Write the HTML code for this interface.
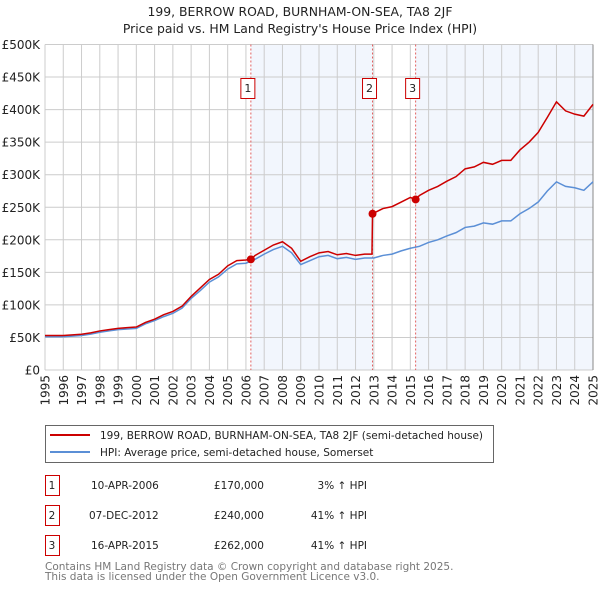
<!DOCTYPE html>
<html><head><meta charset="utf-8"><style>
body{margin:0;background:#fff;font-family:"DejaVu Sans","Liberation Sans",sans-serif;}
svg text{font-family:"DejaVu Sans","Liberation Sans",sans-serif;}
</style></head><body>
<svg id="c" width="600" height="590" xmlns="http://www.w3.org/2000/svg">
<text x="300" y="16" text-anchor="middle" font-size="12.4" fill="#222">199, BERROW ROAD, BURNHAM-ON-SEA, TA8 2JF</text>
<text x="300" y="33" text-anchor="middle" font-size="12.4" fill="#222">Price paid vs. HM Land Registry's House Price Index (HPI)</text>
<g id="plot"></g>
<rect x="45.5" y="425.5" width="448" height="37" fill="#fff" stroke="#666"/>
<line x1="50" y1="435" x2="90" y2="435" stroke="#cc0000" stroke-width="2"/>
<text x="100" y="439" font-size="10.5" fill="#222">199, BERROW ROAD, BURNHAM-ON-SEA, TA8 2JF (semi-detached house)</text>
<line x1="50" y1="452" x2="90" y2="452" stroke="#5b8fd6" stroke-width="2"/>
<text x="100" y="456" font-size="10.5" fill="#222">HPI: Average price, semi-detached house, Somerset</text>
<g font-size="10.5" fill="#222">
<rect x="45.5" y="475.5" width="14" height="20" fill="#fff" stroke="#cc0000"/><text x="52" y="489" text-anchor="middle">1</text>
<text x="91" y="489">10-APR-2006</text><text x="264" y="489" text-anchor="end">£170,000</text><text x="367" y="489" text-anchor="end">3% ↑ HPI</text>
<rect x="45.5" y="505.5" width="14" height="20" fill="#fff" stroke="#cc0000"/><text x="52" y="519" text-anchor="middle">2</text>
<text x="89" y="519">07-DEC-2012</text><text x="264" y="519" text-anchor="end">£240,000</text><text x="367" y="519" text-anchor="end">41% ↑ HPI</text>
<rect x="45.5" y="535.5" width="14" height="20" fill="#fff" stroke="#cc0000"/><text x="52" y="549" text-anchor="middle">3</text>
<text x="91" y="549">16-APR-2015</text><text x="264" y="549" text-anchor="end">£262,000</text><text x="367" y="549" text-anchor="end">41% ↑ HPI</text>
</g>
<text x="45" y="570" font-size="10.5" fill="#777">Contains HM Land Registry data © Crown copyright and database right 2025.</text>
<text x="45" y="580" font-size="10.5" fill="#777">This data is licensed under the Open Government Licence v3.0.</text>
</svg>
<script>
const hpiYears=[1995,1995.5,1996,1996.5,1997,1997.5,1998,1998.5,1999,1999.5,2000,2000.5,2001,2001.5,2002,2002.5,2003,2003.5,2004,2004.5,2005,2005.5,2006,2006.5,2007,2007.5,2008,2008.5,2009,2009.5,2010,2010.5,2011,2011.5,2012,2012.5,2013,2013.5,2014,2014.5,2015,2015.5,2016,2016.5,2017,2017.5,2018,2018.5,2019,2019.5,2020,2020.5,2021,2021.5,2022,2022.5,2023,2023.5,2024,2024.5,2025];
const hpiValues=[51,51,51,52,53,55,58,60,62,63,64,71,76,82,87,95,110,122,135,143,155,163,164,170,178,185,190,180,162,168,174,176,171,173,170,172,172,176,178,183,187,190,196,200,206,211,219,221,226,224,229,229,240,248,258,275,289,282,280,276,289];
const propYears=[1995,1995.5,1996,1996.5,1997,1997.5,1998,1998.5,1999,1999.5,2000,2000.5,2001,2001.5,2002,2002.5,2003,2003.5,2004,2004.5,2005,2005.5,2006,2006.27,2006.5,2007,2007.5,2008,2008.5,2009,2009.5,2010,2010.5,2011,2011.5,2012,2012.5,2012.9,2012.93,2013.5,2014,2014.5,2015,2015.29,2015.5,2016,2016.5,2017,2017.5,2018,2018.5,2019,2019.5,2020,2020.5,2021,2021.5,2022,2022.5,2023,2023.5,2024,2024.5,2025];
const propValues=[53,53,53,54,55,57,60,62,64,65,66,73,78,85,90,98,113,126,139,147,160,168,169,170,176,184,192,197,187,167,174,180,182,177,179,176,178,178,240,248,251,258,265,262,268,276,282,290,297,309,312,319,316,322,322,338,350,365,388,412,398,393,390,408];
const saleYears=[2006.27,2012.93,2015.29];
const saleValues=[170,240,262];
const saleLabels=["1","2","3"];
const yTicks=[0,50,100,150,200,250,300,350,400,450,500];
const yTickLabels=["£0","£50K","£100K","£150K","£200K","£250K","£300K","£350K","£400K","£450K","£500K"];
const xTicks=[1995,1996,1997,1998,1999,2000,2001,2002,2003,2004,2005,2006,2007,2008,2009,2010,2011,2012,2013,2014,2015,2016,2017,2018,2019,2020,2021,2022,2023,2024,2025];

const X0=45,X1=593,Y0=370,Y1=44.5;
const sx=v=>X0+(v-1995)/30*(X1-X0);
const sy=v=>Y0-v/500*(Y0-Y1);
const NS="http://www.w3.org/2000/svg";
const g=document.getElementById('plot');
function mk(t,a,p){const e=document.createElementNS(NS,t);for(const k in a)e.setAttribute(k,a[k]);(p||g).appendChild(e);return e;}
let e;
e=mk('rect',{x:X0,y:Y1,width:X1-X0,height:Y0-Y1,fill:'#fff'});


e=mk('rect',{x:sx(saleYears[0]),y:Y1,width:sx(saleYears[1])-sx(saleYears[0]),height:Y0-Y1,fill:'#f2f6fd'});


e=mk('rect',{x:sx(saleYears[2]),y:Y1,width:X1-sx(saleYears[2]),height:Y0-Y1,fill:'#f2f6fd'});


yTicks.forEach((v,i)=>{
 e=mk('line',{x1:X0,x2:X1,y1:sy(v),y2:sy(v),stroke:'#ccc','stroke-width':1});
 
 
 e=mk('text',{x:X0-5,y:sy(v)+4.5,'text-anchor':'end','font-size':12,fill:'#222'});
 e.textContent=yTickLabels[i];
 
 
});
xTicks.forEach(v=>{
 e=mk('line',{x1:sx(v),x2:sx(v),y1:Y1,y2:Y0,stroke:'#ccc','stroke-width':1});
 
 
 e=mk('text',{x:0,y:0,'text-anchor':'end','font-size':12,fill:'#222',transform:`translate(${sx(v)+4.5},${Y0+5}) rotate(-90)`});
 e.textContent=v;
 
 
});
e=mk('line',{x1:X1,x2:X1,y1:Y1,y2:Y0,stroke:'#888','stroke-width':1});


saleYears.forEach((v,i)=>{
 e=mk('line',{x1:sx(v),x2:sx(v),y1:Y1,y2:Y0,stroke:'#e06060','stroke-width':1,'stroke-dasharray':'2,2'});
 
 
 e=mk('rect',{x:sx(v)-10,y:78.5,width:14,height:20,fill:'#fff',stroke:'#cc0000'});
 
 
 e=mk('text',{x:sx(v)-3,y:92,'text-anchor':'middle','font-size':11,fill:'#222'});
 e.textContent=saleLabels[i];
 
 
});
e=mk('polyline',{points:hpiYears.map((y,i)=>sx(y)+','+sy(hpiValues[i])).join(' '),fill:'none',stroke:'#5b8fd6','stroke-width':1.5});


e=mk('polyline',{points:propYears.map((y,i)=>sx(y)+','+sy(propValues[i])).join(' '),fill:'none',stroke:'#cc0000','stroke-width':1.5});


saleYears.forEach((v,i)=>{
 e=mk('circle',{cx:sx(v),cy:sy(saleValues[i]),r:4,fill:'#cc0000'});
 
 
});
</script>
</body></html>
